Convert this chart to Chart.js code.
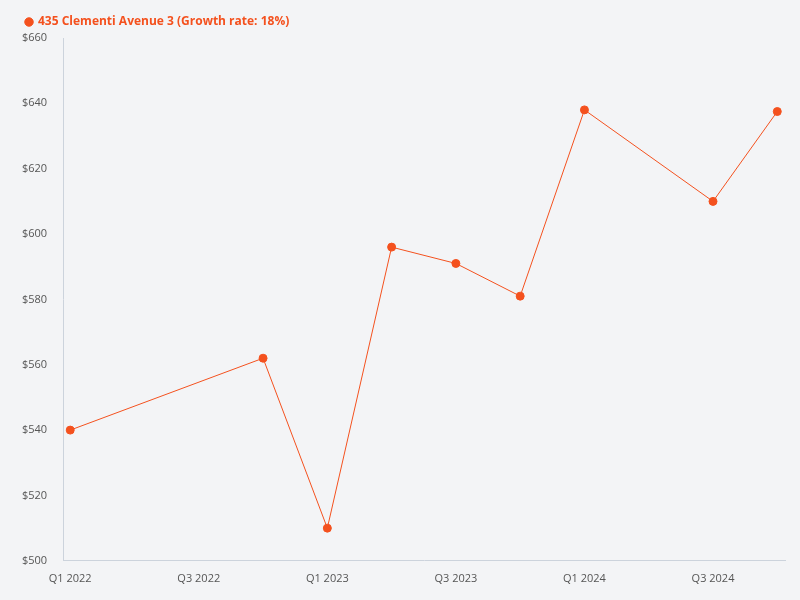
<!DOCTYPE html>
<html lang="en">
<head>
  <meta charset="UTF-8">
  <title>435 Clementi Avenue 3</title>
  <style>
    body { margin: 0; background: #f3f4f6; }
    .wrap { width: 800px; height: 600px; }
  </style>
</head>
<body>
<div class="wrap"><canvas id="chart" width="800" height="600"></canvas></div>
<script src="https://cdn.jsdelivr.net/npm/chart.js"></script>
<script>
// quarter index: 0 = Q1 2022
const quarterLabels = ["Q1 2022","Q2 2022","Q3 2022","Q4 2022","Q1 2023","Q2 2023","Q3 2023","Q4 2023","Q1 2024","Q2 2024","Q3 2024","Q4 2024"];
const quarterIdx = [0, 3, 4, 5, 6, 7, 8, 10, 11];
const prices = [540, 562, 510, 596, 591, 581, 638, 610, 637.5];
const tickQuarters = [0, 2, 4, 6, 8, 10];
const seriesName = "435 Clementi Avenue 3 (Growth rate: 18%)";

const color = "#f4511e";
Chart.defaults.font.family = "'Open Sans', sans-serif";

new Chart(document.getElementById("chart"), {
  type: "line",
  data: {
    datasets: [{
      label: seriesName,
      data: quarterIdx.map((q, i) => ({ x: q, y: prices[i] })),
      borderColor: color,
      backgroundColor: color,
      borderWidth: 1,
      pointRadius: 4,
      pointHoverRadius: 5,
      tension: 0
    }]
  },
  options: {
    responsive: false,
    animation: false,
    layout: { padding: { right: 15, left: 14, top: 4, bottom: 12 } },
    plugins: {
      legend: {
        align: "start",
        labels: {
          color: color,
          font: { size: 12, weight: "bold" },
          usePointStyle: true,
          pointStyle: "circle",
          boxWidth: 6,
          boxHeight: 6,
          padding: 12
        }
      },
      tooltip: { enabled: false }
    },
    scales: {
      x: {
        type: "linear",
        min: -0.11,
        max: 11.12,
        grid: { display: false },
        border: { color: "#ccd3dc" },
        afterBuildTicks: axis => { axis.ticks = tickQuarters.map(v => ({ value: v })); },
        ticks: {
          color: "#555",
          font: { size: 11 },
          callback: v => quarterLabels[v]
        }
      },
      y: {
        min: 500,
        max: 660,
        grid: { display: false },
        border: { color: "#ccd3dc" },
        ticks: {
          stepSize: 20,
          color: "#555",
          font: { size: 11 },
          padding: 8,
          callback: v => "$" + v
        }
      }
    }
  }
});
</script>
</body>
</html>
